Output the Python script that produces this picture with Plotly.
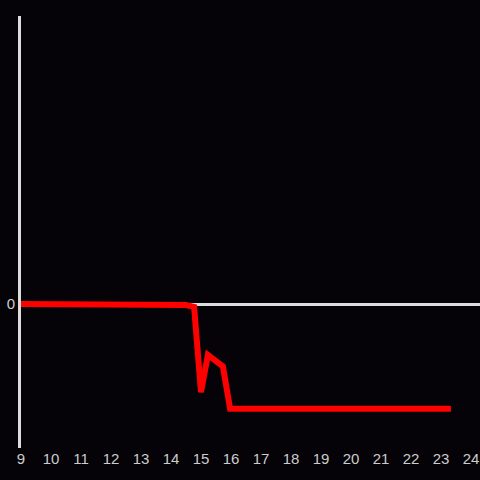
import plotly.graph_objects as go

x_vals = [9, 14.2, 14.5, 14.77, 15.0, 15.23, 15.73, 15.97, 23.33]
y_vals = [0, 0, -0.01, -0.03, -0.92, -0.53, -0.65, -1.09, -1.09]
x_ticks = list(range(9, 25))

fig = go.Figure(go.Scatter(x=x_vals, y=y_vals, mode="lines",
                           line=dict(color="#ff0000", width=6)))
fig.update_layout(
    width=480, height=480,
    paper_bgcolor="#050308", plot_bgcolor="#050308",
    margin=dict(l=21, r=0, t=16, b=32),
    showlegend=False,
    font=dict(family="Liberation Sans, Arial", size=15, color="#cccccc"),
)
fig.update_xaxes(range=[9, 9 + 459 / 30], tickvals=x_ticks, showgrid=False,
                 zeroline=False, showline=False, ticks="", ticklen=0)
fig.update_yaxes(range=[-1.5, 3], tickvals=[0], showgrid=False,
                 zeroline=True, zerolinecolor="#dddddd", zerolinewidth=3,
                 showline=True, linecolor="#dddddd", linewidth=3, ticks="")
fig.write_html("out.html", config={"displayModeBar": False},
               post_script="document.body.style.margin='0';document.body.style.background='#050308';")
